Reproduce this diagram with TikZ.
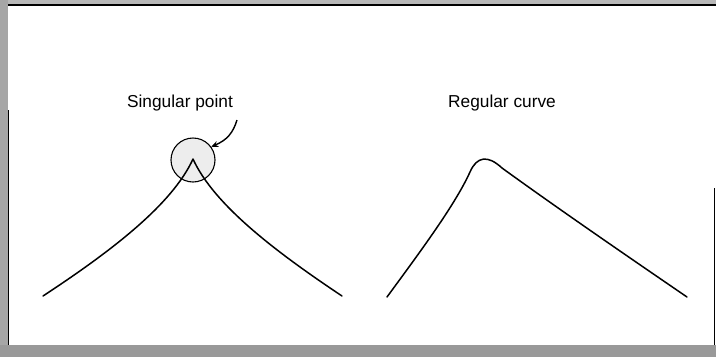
\documentclass[tikz,border=0pt]{standalone}
\usepackage{fontspec}
\setmainfont{Liberation Sans}
\usetikzlibrary{arrows.meta}
\begin{document}
\begin{tikzpicture}[x=1pt,y=-1pt,
  curveline/.style={line width=1.5pt, line cap=round, line join=round},
  lab/.style={font=\fontsize{17.3}{20}\selectfont, inner sep=0pt},
  band/.style={fill=black!28, draw=none}]
\useasboundingbox (0,0) rectangle (716,357);
% frame bands
\fill[band] (0,0) rectangle (716,5);
\fill[band, fill=black!35] (0,0) rectangle (8,357);
\fill[band, fill=black!40] (0,345) rectangle (716,357);
\draw[line width=1.2pt] (8,5) -- (716,5);
\draw[line width=1.2pt] (8.5,110) -- (8.5,345);
\draw[line width=1.2pt] (714.5,188) -- (714.5,345);
% singular point
\node[circle, draw, line width=1.1pt, fill=black!7, minimum size=44pt, inner sep=0pt] (sp) at (193,160) {};
\coordinate (apex) at (193,159);
\coordinate (lend) at (43,296);
\coordinate (rend) at (342,296);
\draw[curveline] (lend) .. controls (110,252) and (172,205) .. (apex)
  .. controls (214,205) and (276,252) .. (rend);
\node[lab] (splab) at (180,103) {Singular point};
\coordinate (astart) at (237,120);
\draw[line width=1.4pt, -{Stealth[length=7pt,width=6pt]}] (astart) .. controls (233,133) and (227,140) .. (sp.36);
% regular curve
\node[lab] (rclab) at (502,103) {Regular curve};
\coordinate (a) at (387,297);
\coordinate (b) at (687,297);
\draw[curveline] (a) .. controls (420,252) and (455,205) .. (470,172)
  .. controls (477,156) and (488,155) .. (502,168)
  .. controls (560,210) and (630,258) .. (b);
\end{tikzpicture}
\end{document}
